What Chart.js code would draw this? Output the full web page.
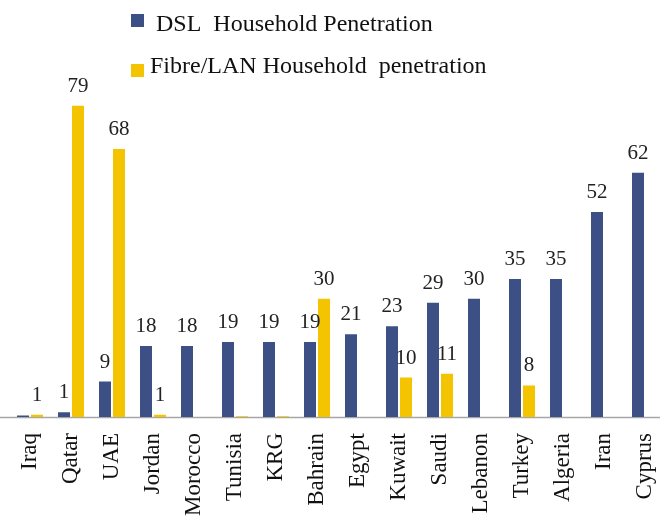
<!DOCTYPE html>
<html>
<head>
<meta charset="utf-8">
<script src="https://cdn.jsdelivr.net/npm/chart.js@4"></script>
<style>
  html, body { margin: 0; padding: 0; background: #fff; overflow: hidden; }
  canvas { display: block; }
</style>
</head>
<body>
<canvas id="chart" width="670" height="517"></canvas>
<script>
const countries = ['Iraq', 'Qatar', 'UAE', 'Jordan', 'Morocco', 'Tunisia', 'KRG', 'Bahrain',
    'Egypt', 'Kuwait', 'Saudi', 'Lebanon', 'Turkey', 'Algeria', 'Iran', 'Cyprus'];
const dslValues = [0.4, 1.2, 9, 18, 18, 19, 19, 19, 21, 23, 29, 30, 35, 35, 52, 62];
const fibreValues = [0.6, 79, 68, 0.6, 0, 0.2, 0.2, 30, 0, 10, 11, 0, 8, 0, 0, 0];
const seriesNames = [' DSL  Household Penetration', 'Fibre/LAN Household  penetration'];
const seriesColors = ['#3C5085', '#F5C400'];

const serif = "'Liberation Serif', 'Times New Roman', serif";

// value labels above bars (hidden when they round to 0)
const valueLabels = {
    id: 'valueLabels',
    afterDatasetsDraw(chart) {
        const ctx = chart.ctx;
        ctx.save();
        ctx.font = '21px ' + serif;
        ctx.fillStyle = '#222';
        ctx.textAlign = 'center';
        ctx.textBaseline = 'bottom';
        chart.data.datasets.forEach((ds, i) => {
            chart.getDatasetMeta(i).data.forEach((bar, j) => {
                const v = ds.data[j];
                if (v < 0.5) return;
                ctx.fillText(String(Math.round(v)), bar.x, bar.y - 9);
            });
        });
        ctx.restore();
    }
};

// two-line legend in the top area
const stackedLegend = {
    id: 'stackedLegend',
    afterDraw(chart) {
        const ctx = chart.ctx;
        ctx.save();
        ctx.font = '24px ' + serif;
        ctx.textBaseline = 'alphabetic';
        ctx.textAlign = 'left';
        chart.data.datasets.forEach((ds, i) => {
            ctx.fillStyle = ds.backgroundColor;
            ctx.fillRect(131, 14 + i * 50, 13, 13);
            ctx.fillStyle = '#111';
            ctx.fillText(ds.label, 150, 31 + i * 42);
        });
        ctx.restore();
    }
};

// axis line across the full width
const baseLine = {
    id: 'baseLine',
    beforeDatasetsDraw(chart) {
        const ctx = chart.ctx;
        const y = Math.round(chart.scales.y.getPixelForValue(0)) + 0.5;
        ctx.save();
        ctx.strokeStyle = '#A6A6A6';
        ctx.lineWidth = 1.5;
        ctx.beginPath();
        ctx.moveTo(0, y);
        ctx.lineTo(chart.width, y);
        ctx.stroke();
        ctx.restore();
    }
};

new Chart(document.getElementById('chart'), {
    type: 'bar',
    data: {
        labels: countries,
        datasets: [
            { label: seriesNames[0], data: dslValues, backgroundColor: seriesColors[0] },
            { label: seriesNames[1], data: fibreValues, backgroundColor: seriesColors[1] }
        ]
    },
    options: {
        responsive: false,
        animation: false,
        categoryPercentage: 0.683,
        barPercentage: 0.857,
        layout: { padding: { top: 82, left: 9.5, right: 4.5, bottom: 0 } },
        plugins: {
            legend: { display: false },
            tooltip: { enabled: false }
        },
        scales: {
            x: {
                grid: { display: false },
                border: { display: false },
                afterFit(scale) {
                    scale.height = 100;
                    scale.paddingLeft = 0;
                    scale.paddingRight = 0;
                },
                ticks: {
                    minRotation: 90,
                    maxRotation: 90,
                    autoSkip: false,
                    padding: 8,
                    color: '#111',
                    font: { family: serif, size: 23 }
                }
            },
            y: {
                display: false,
                min: 0,
                max: 85
            }
        }
    },
    plugins: [valueLabels, stackedLegend, baseLine]
});
</script>
</body>
</html>
